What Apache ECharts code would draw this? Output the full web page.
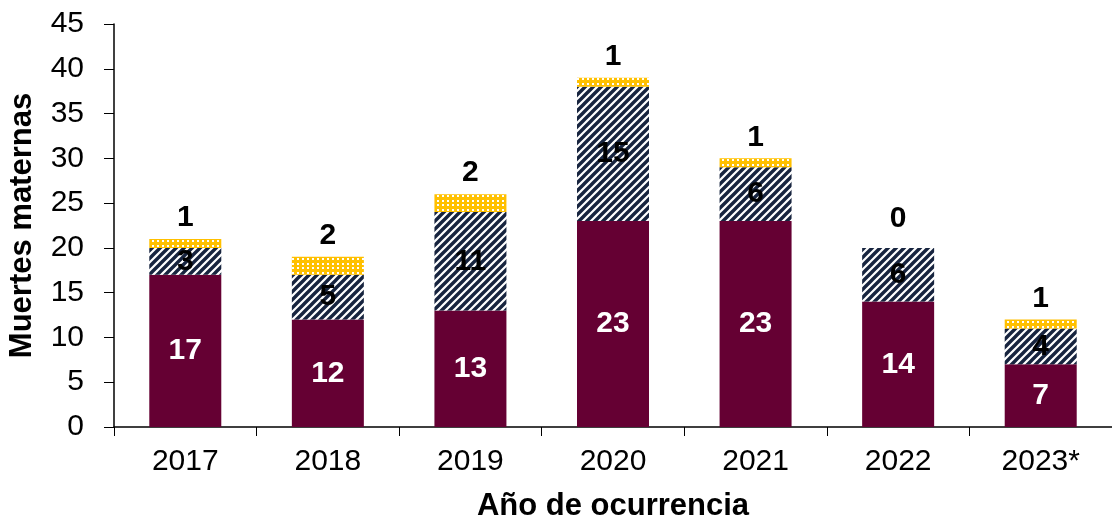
<!DOCTYPE html>
<html>
<head>
<meta charset="utf-8">
<script src="https://cdn.jsdelivr.net/npm/echarts@6/dist/echarts.min.js"></script>
<style>
    html, body { margin: 0; padding: 0; background: #fff; }
    #chart { width: 1112px; height: 524px; }
</style>
</head>
<body>
<div id="chart"></div>
<script>
    var years = ['2017', '2018', '2019', '2020', '2021', '2022', '2023*'];
    var directas = [17, 12, 13, 23, 23, 14, 7];
    var indirectas = [3, 5, 11, 15, 6, 6, 4];
    var otras = [1, 2, 2, 1, 1, 0, 1];
    var yTicks = [0, 5, 10, 15, 20, 25, 30, 35, 40, 45];

    // diagonal navy hatch
    function hatchPattern() {
        var c = document.createElement('canvas');
        c.width = 8; c.height = 8;
        var ctx = c.getContext('2d');
        ctx.fillStyle = '#ffffff';
        ctx.fillRect(0, 0, 8, 8);
        ctx.strokeStyle = '#17243f';
        ctx.lineWidth = 3.4;
        ctx.beginPath();
        ctx.moveTo(-2, 10); ctx.lineTo(10, -2);
        ctx.moveTo(-6, 6); ctx.lineTo(6, -6);
        ctx.moveTo(2, 14); ctx.lineTo(14, 2);
        ctx.stroke();
        return c;
    }

    // gold with a grid of small white squares
    function dotPattern() {
        var c = document.createElement('canvas');
        c.width = 10; c.height = 9;
        var ctx = c.getContext('2d');
        ctx.fillStyle = '#ffc000';
        ctx.fillRect(0, 0, 10, 9);
        ctx.fillStyle = '#ffffff';
        ctx.fillRect(2, 2, 2, 2);
        ctx.fillRect(7, 2, 2, 2);
        ctx.fillRect(2, 6, 2, 2);
        ctx.fillRect(7, 6, 2, 2);
        return c;
    }

    var chart = echarts.init(document.getElementById('chart'));
    var fam = 'Liberation Sans, Arial, sans-serif';
    var labelFont = { fontFamily: fam, fontWeight: 'bold', fontSize: 30 };

    // zero-height segment: lift its label a bit like the original
    var otrasData = otras.map(function (v) {
        return v === 0 ? { value: v, label: { distance: 14 } } : v;
    });

    chart.setOption({
        animation: false,
        grid: { left: 114, right: 0, top: 24, bottom: 97, outerBoundsMode: 'none' },
        xAxis: {
            type: 'category',
            data: years,
            name: 'Año de ocurrencia',
            nameLocation: 'middle',
            nameGap: 64,
            nameTextStyle: { color: '#000', fontFamily: fam, fontWeight: 'bold', fontSize: 31 },
            axisLine: { lineStyle: { color: '#000', width: 1.5 } },
            axisTick: { show: true, length: 9, lineStyle: { color: '#000' } },
            axisLabel: { color: '#000', fontFamily: fam, fontSize: 30, margin: 20 }
        },
        yAxis: {
            type: 'value',
            min: yTicks[0],
            max: yTicks[yTicks.length - 1],
            interval: 5,
            name: 'Muertes maternas',
            nameLocation: 'middle',
            nameGap: 76,
            nameTextStyle: { color: '#000', fontFamily: fam, fontWeight: 'bold', fontSize: 31 },
            axisLine: { show: true, lineStyle: { color: '#000', width: 1.5 } },
            axisTick: { show: true, length: 10, lineStyle: { color: '#000' } },
            splitLine: { show: false },
            axisLabel: { color: '#000', fontFamily: fam, fontSize: 30, margin: 30 }
        },
        series: [
            {
                name: 'directas',
                type: 'bar',
                stack: 'total',
                barWidth: 72,
                data: directas,
                itemStyle: { color: '#650033' },
                label: Object.assign({ show: true, position: 'inside', color: '#fff' }, labelFont)
            },
            {
                name: 'indirectas',
                type: 'bar',
                stack: 'total',
                barWidth: 72,
                data: indirectas,
                itemStyle: { color: { image: hatchPattern(), repeat: 'repeat' } },
                label: Object.assign({ show: true, position: 'inside', color: '#000' }, labelFont)
            },
            {
                name: 'otras',
                type: 'bar',
                stack: 'total',
                barWidth: 72,
                data: otrasData,
                itemStyle: { color: { image: dotPattern(), repeat: 'repeat' } },
                label: Object.assign({ show: true, position: 'top', distance: 6, color: '#000' }, labelFont)
            }
        ]
    });
</script>
</body>
</html>
